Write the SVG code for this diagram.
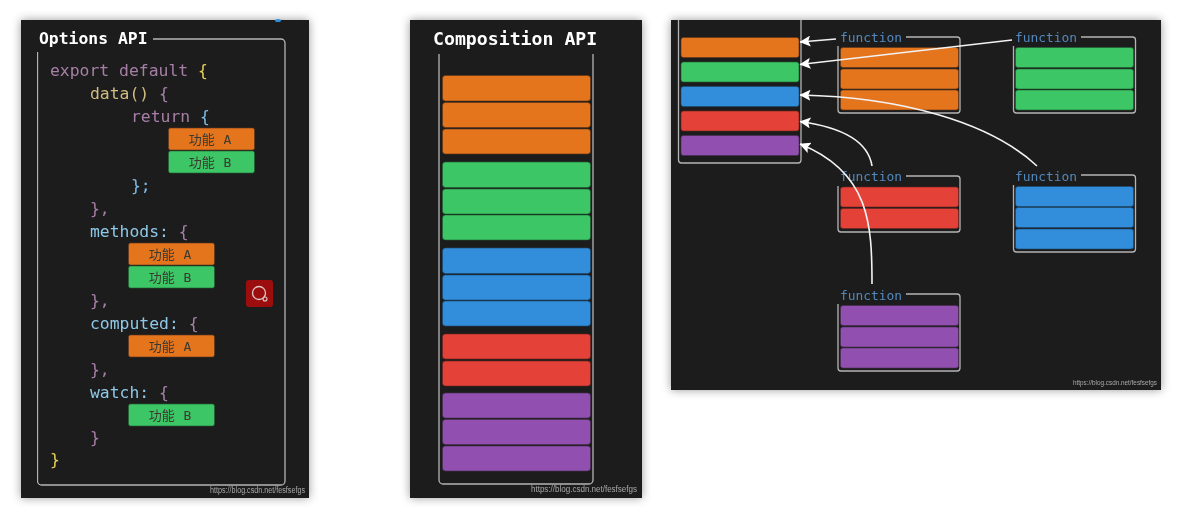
<svg xmlns="http://www.w3.org/2000/svg" width="1186" height="514" viewBox="0 0 1186 514">
<style>
.panel{fill:#1c1c1c;filter:url(#shadow)}
.frame{fill:none;stroke:#b4b4b4;stroke-width:1.3}
.o{fill:#e4741f;stroke:#5a3518;stroke-width:.6}
.g{fill:#3cc666;stroke:#1d5a30;stroke-width:.6}
.b{fill:#308ddb;stroke:#1b4a72;stroke-width:.6}
.r{fill:#e44237;stroke:#6a2520;stroke-width:.6}
.p{fill:#9150b0;stroke:#46284f;stroke-width:.6}
text{font-family:"DejaVu Sans Mono","Liberation Mono",monospace}
.title{font-size:16.4px;font-weight:bold;fill:#fff}
.title2{font-size:18.2px;font-weight:bold;fill:#fff}
.code{font-size:16.4px}
.kw{fill:#a67fa6}.fn{fill:#d0bb80}.prop{fill:#8ec8e8}.y{fill:#e6cf55}.bl{fill:#7dbde6}
.cn{font-family:"DejaVu Sans Mono","Noto Sans CJK SC",sans-serif;font-size:13px;fill:#3a3a30;text-anchor:middle;word-spacing:1px}
.fnl{font-size:12.9px;fill:#5288bc}
.wm{font-family:"Liberation Sans",sans-serif;fill:#a8a8a8}
.arrow{fill:none;stroke:#f2f2f2;stroke-width:1.6;marker-end:url(#head)}
</style>
<defs>
<filter id="shadow" x="-10%" y="-10%" width="120%" height="120%"><feDropShadow dx="0" dy="0" stdDeviation="5" flood-color="#000" flood-opacity=".4"/></filter>
<filter id="soft" x="0" y="0" width="100%" height="100%"><feGaussianBlur stdDeviation=".35"/></filter>
<marker id="head" viewBox="0 0 10 10" refX="9.5" refY="5" markerUnits="userSpaceOnUse" markerWidth="11" markerHeight="11" orient="auto"><path d="M0 0L10 5L0 10L2 5Z" fill="#fff"/></marker>
</defs>
<rect width="1186" height="514" fill="#fff"/>
<rect class="panel" x="21" y="20" width="288" height="478"/>
<rect class="panel" x="410" y="20" width="232" height="478"/>
<rect class="panel" x="671" y="20" width="490" height="370"/>
<g filter="url(#soft)">
<g id="options-api">
<ellipse cx="278" cy="20.500" rx="3" ry="1.500" fill="#308ddb"/>
<text class="title" x="39" y="44">Options API</text>
<path class="frame" d="M37.500 52V481a4 4 0 0 0 4 4H281a4 4 0 0 0 4-4V43a4 4 0 0 0-4-4H153"/>
<g class="code">
<text x="50" y="76"><tspan class="kw">export default </tspan><tspan class="y">{</tspan></text>
<text x="90" y="99"><tspan class="fn">data() </tspan><tspan class="kw">{</tspan></text>
<text x="131" y="122"><tspan class="kw">return </tspan><tspan class="bl">{</tspan></text>
<text x="131" y="191" class="bl">};</text>
<text x="90" y="214" class="kw">},</text>
<text x="90" y="237"><tspan class="prop">methods: </tspan><tspan class="kw">{</tspan></text>
<text x="90" y="306" class="kw">},</text>
<text x="90" y="329"><tspan class="prop">computed: </tspan><tspan class="kw">{</tspan></text>
<text x="90" y="375" class="kw">},</text>
<text x="90" y="398"><tspan class="prop">watch: </tspan><tspan class="kw">{</tspan></text>
<text x="90" y="443" class="kw">}</text>
<text x="50" y="465" class="y">}</text>
</g>
<rect class="o" x="168.500" y="128" width="86" height="22" rx="2"/><text class="cn" x="210" y="144">功能 A</text>
<rect class="g" x="168.500" y="151" width="86" height="22" rx="2"/><text class="cn" x="210" y="167">功能 B</text>
<rect class="o" x="128.500" y="243" width="86" height="22" rx="2"/><text class="cn" x="170" y="259">功能 A</text>
<rect class="g" x="128.500" y="266" width="86" height="22" rx="2"/><text class="cn" x="170" y="282">功能 B</text>
<rect class="o" x="128.500" y="335" width="86" height="22" rx="2"/><text class="cn" x="170" y="351">功能 A</text>
<rect class="g" x="128.500" y="404" width="86" height="22" rx="2"/><text class="cn" x="170" y="420">功能 B</text>
<text class="wm" x="210" y="493" font-size="8.500" textLength="95" lengthAdjust="spacingAndGlyphs">https://blog.csdn.net/fesfsefgs</text>
</g>
<g id="search-icon">
<rect x="246" y="280" width="27" height="27" rx="3" fill="#9c1010"/>
<circle cx="259" cy="293" r="6.500" fill="none" stroke="#e0c8c8" stroke-width="1.300"/>
<circle cx="265" cy="299" r="2" fill="none" stroke="#e0c8c8" stroke-width="1.100"/>
</g>
<g id="composition-api">
<text class="title2" x="433" y="45">Composition API</text>
<path class="frame" d="M439 54V480a4 4 0 0 0 4 4H589a4 4 0 0 0 4-4V54"/>
<rect class="o" x="442.500" y="75.500" width="148" height="25.500" rx="3"/>
<rect class="o" x="442.500" y="102.500" width="148" height="25" rx="3"/>
<rect class="o" x="442.500" y="129" width="148" height="25" rx="3"/>
<rect class="g" x="442.500" y="162" width="148" height="25.500" rx="3"/>
<rect class="g" x="442.500" y="189" width="148" height="25" rx="3"/>
<rect class="g" x="442.500" y="215" width="148" height="25" rx="3"/>
<rect class="b" x="442.500" y="248" width="148" height="25.500" rx="3"/>
<rect class="b" x="442.500" y="275" width="148" height="25" rx="3"/>
<rect class="b" x="442.500" y="301" width="148" height="25" rx="3"/>
<rect class="r" x="442.500" y="334" width="148" height="25" rx="3"/>
<rect class="r" x="442.500" y="361" width="148" height="25" rx="3"/>
<rect class="p" x="442.500" y="393" width="148" height="25" rx="3"/>
<rect class="p" x="442.500" y="419.500" width="148" height="25" rx="3"/>
<rect class="p" x="442.500" y="446" width="148" height="25" rx="3"/>
<text class="wm" x="531" y="492" font-size="9" textLength="106" lengthAdjust="spacingAndGlyphs">https://blog.csdn.net/fesfsefgs</text>
</g>
<g id="stack">
<path class="frame" d="M678.500 20V160a3 3 0 0 0 3 3H798a3 3 0 0 0 3-3V20"/>
<rect class="o" x="681" y="37.500" width="118" height="20" rx="2.500"/>
<rect class="g" x="681" y="62" width="118" height="20" rx="2.500"/>
<rect class="b" x="681" y="86.500" width="118" height="20" rx="2.500"/>
<rect class="r" x="681" y="111" width="118" height="20" rx="2.500"/>
<rect class="p" x="681" y="135.500" width="118" height="20" rx="2.500"/>
</g>
<g id="fn-orange">
<text class="fnl" x="840" y="41.500">function</text>
<path class="frame" d="M838 46V110a3 3 0 0 0 3 3H957a3 3 0 0 0 3-3V40a3 3 0 0 0-3-3H906"/>
<rect class="o" x="840.500" y="47.500" width="118" height="20" rx="2.500"/>
<rect class="o" x="840.500" y="69" width="118" height="20" rx="2.500"/>
<rect class="o" x="840.500" y="90" width="118" height="20" rx="2.500"/>
</g>
<g id="fn-green">
<text class="fnl" x="1015" y="41.500">function</text>
<path class="frame" d="M1013.500 46V110a3 3 0 0 0 3 3H1132.500a3 3 0 0 0 3-3V40a3 3 0 0 0-3-3H1081"/>
<rect class="g" x="1015.500" y="47.500" width="118" height="20" rx="2.500"/>
<rect class="g" x="1015.500" y="69" width="118" height="20" rx="2.500"/>
<rect class="g" x="1015.500" y="90" width="118" height="20" rx="2.500"/>
</g>
<g id="fn-red">
<text class="fnl" x="840" y="181">function</text>
<path class="frame" d="M838 186V229a3 3 0 0 0 3 3H957a3 3 0 0 0 3-3V179a3 3 0 0 0-3-3H906"/>
<rect class="r" x="840.500" y="187" width="118" height="20" rx="2.500"/>
<rect class="r" x="840.500" y="208.500" width="118" height="20" rx="2.500"/>
</g>
<g id="fn-blue">
<text class="fnl" x="1015" y="181">function</text>
<path class="frame" d="M1013.500 185V249a3 3 0 0 0 3 3H1132.500a3 3 0 0 0 3-3V178a3 3 0 0 0-3-3H1081"/>
<rect class="b" x="1015.500" y="186.500" width="118" height="20" rx="2.500"/>
<rect class="b" x="1015.500" y="207.500" width="118" height="20" rx="2.500"/>
<rect class="b" x="1015.500" y="229" width="118" height="20" rx="2.500"/>
</g>
<g id="fn-purple">
<text class="fnl" x="840" y="299.500">function</text>
<path class="frame" d="M838 304V368a3 3 0 0 0 3 3H957a3 3 0 0 0 3-3V297a3 3 0 0 0-3-3H906"/>
<rect class="p" x="840.500" y="305.500" width="118" height="20" rx="2.500"/>
<rect class="p" x="840.500" y="327" width="118" height="20" rx="2.500"/>
<rect class="p" x="840.500" y="348" width="118" height="20" rx="2.500"/>
</g>
<g id="connectors">
<path class="arrow" d="M836 39L800 42"/>
<path class="arrow" d="M1012 40L800 64.500"/>
<path class="arrow" d="M1037 166C990 122 900 97 800 95"/>
<path class="arrow" d="M872 166C868 140 840 127 800 121.500"/>
<path class="arrow" d="M872 284C872 225 870 172 800 144"/>
</g>
<text class="wm" x="1073" y="385" font-size="7.500" textLength="84" lengthAdjust="spacingAndGlyphs">https://blog.csdn.net/fesfsefgs</text>
</g>
</svg>
